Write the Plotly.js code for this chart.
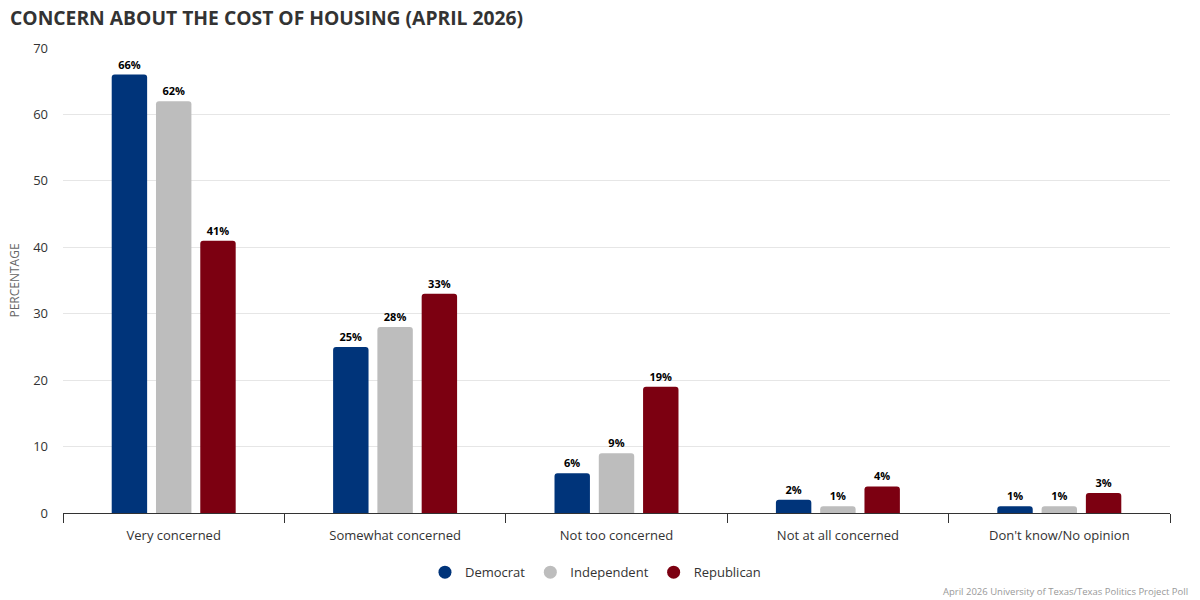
<!DOCTYPE html>
<html>
<head>
<meta charset="utf-8">
<script src="https://cdn.plot.ly/plotly-3.0.1.min.js"></script>
<style>
  body { margin: 0; background: #fff; }
  #chart { width: 1200px; height: 600px; }
</style>
</head>
<body>
<div id="chart"></div>
<script>
const categories = ['Very concerned', 'Somewhat concerned', 'Not too concerned', 'Not at all concerned', "Don't know/No opinion"];
const seriesNames = ['Democrat', 'Independent', 'Republican'];
const democrat = [66, 25, 6, 2, 1];
const independent = [62, 28, 9, 1, 1];
const republican = [41, 33, 19, 4, 3];
const yTicks = [0, 10, 20, 30, 40, 50, 60, 70];

const colors = ['#00347a', '#bdbdbd', '#7c0011'];
const fontFamily = '"Open Sans", "Noto Sans", sans-serif';

function barTrace(name, values, color) {
    return {
        type: 'bar',
        name: name,
        x: categories,
        y: values,
        marker: { color: color, cornerradius: 3 },
        texttemplate: '%{y}%',
        textposition: 'outside',
        cliponaxis: false,
        textfont: { family: fontFamily, size: 11, color: '#000', weight: 'bold' },
        showlegend: false,
        hoverinfo: 'x+y'
    };
}

// legend uses round markers, so add dot traces just for the legend
function legendTrace(name, color) {
    return {
        type: 'scatter',
        mode: 'markers',
        name: name,
        x: [categories[0]],
        y: [null],
        marker: { color: color, size: 13, symbol: 'circle' },
        showlegend: true
    };
}

const allValues = [democrat, independent, republican];
const data = [];
allValues.forEach((vals, i) => data.push(barTrace(seriesNames[i], vals, colors[i])));
seriesNames.forEach((name, i) => data.push(legendTrace(name, colors[i])));

const layout = {
    width: 1200,
    height: 600,
    paper_bgcolor: '#fff',
    plot_bgcolor: '#fff',
    font: { family: fontFamily, color: '#333', size: 13 },
    margin: { l: 63, r: 30, t: 48, b: 87 },
    title: {
        text: 'CONCERN ABOUT THE COST OF HOUSING (APRIL 2026)',
        xref: 'container', x: 10 / 1200, xanchor: 'left',
        yref: 'container', y: 1 - 18 / 600, yanchor: 'middle',
        font: { family: fontFamily, size: 19.3, color: '#333', weight: 'bold' }
    },
    barmode: 'group',
    bargap: 0.4,
    bargroupgap: 0.2,
    xaxis: {
        type: 'category',
        tickson: 'boundaries',
        ticks: 'outside',
        ticklen: 9,
        tickcolor: '#333',
        ticklabelstandoff: 10,
        showline: true,
        linecolor: '#333',
        linewidth: 1,
        showgrid: false,
        tickfont: { size: 13, color: '#333' },
        fixedrange: true
    },
    yaxis: {
        range: [0, 70],
        tickvals: yTicks,
        showgrid: true,
        gridcolor: '#e6e6e6',
        zeroline: false,
        showline: false,
        ticks: '',
        ticklabelstandoff: 14,
        tickfont: { size: 13, color: '#333' },
        title: { text: 'PERCENTAGE', font: { size: 12, color: '#666' }, standoff: 10 },
        fixedrange: true
    },
    legend: {
        orientation: 'h',
        x: 0.481, xanchor: 'center',
        y: -0.095, yanchor: 'top',
        itemwidth: 30,
        font: { size: 13, color: '#333' },
        itemclick: false
    },
    annotations: [{
        text: 'April 2026 University of Texas/Texas Politics Project Poll',
        xref: 'paper', yref: 'paper',
        x: 1.018, xanchor: 'right',
        y: -0.168, yanchor: 'middle',
        showarrow: false,
        font: { size: 9.5, color: '#999' }
    }]
};

Plotly.newPlot('chart', data, layout, { displayModeBar: false, staticPlot: true });
</script>
</body>
</html>
